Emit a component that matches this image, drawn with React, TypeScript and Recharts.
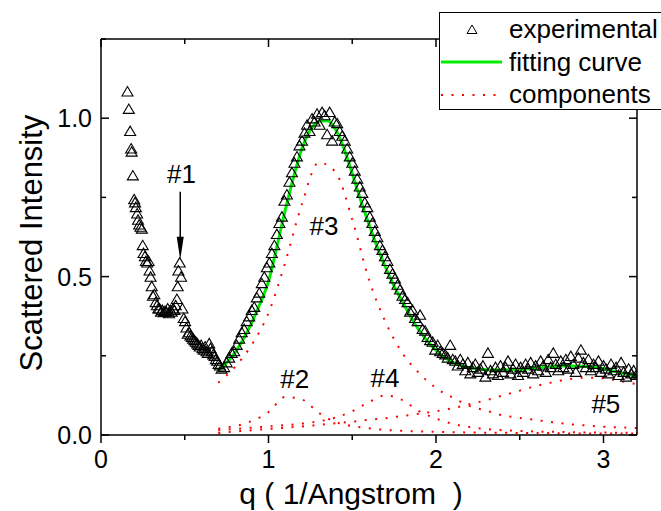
import React from 'react';
import { ComposedChart, Scatter, Line, XAxis, YAxis, Legend, Label, ReferenceDot } from 'recharts';

const FONT = '"Liberation Sans", Arial, sans-serif';

// experimental points (q in 1/Angstrom, intensity)
const expQ = [
  0.158, 0.166, 0.174, 0.180, 0.183, 0.190, 0.198, 0.203, 0.208, 0.216,
  0.221, 0.228, 0.236, 0.244, 0.249, 0.254, 0.262, 0.268, 0.276, 0.284,
  0.290, 0.296, 0.303, 0.310, 0.318, 0.326, 0.334, 0.342, 0.350, 0.358,
  0.366, 0.374, 0.382, 0.390, 0.398, 0.406, 0.414, 0.422, 0.430, 0.438,
  0.446, 0.453, 0.458, 0.462, 0.470, 0.478, 0.486, 0.494, 0.502, 0.510,
  0.518, 0.526, 0.534, 0.542, 0.550, 0.558, 0.566, 0.574, 0.582, 0.590,
  0.598, 0.606, 0.614, 0.622, 0.630, 0.638, 0.646, 0.654, 0.662, 0.670,
  0.678, 0.686, 0.694, 0.702, 0.710,
  0.720, 0.735, 0.750, 0.765, 0.780, 0.795, 0.810, 0.825, 0.840, 0.855,
  0.870, 0.885, 0.900, 0.915, 0.930, 0.945, 0.960, 0.975, 0.990, 1.005,
  1.020, 1.035, 1.050, 1.065, 1.080, 1.095, 1.110, 1.125, 1.140, 1.155,
  1.170, 1.185, 1.200, 1.215, 1.230, 1.245, 1.260, 1.275, 1.290, 1.305,
  1.320, 1.335, 1.350, 1.365, 1.380, 1.395, 1.410, 1.425, 1.440, 1.455,
  1.470, 1.485, 1.500, 1.515, 1.530, 1.545, 1.560, 1.575, 1.590, 1.605,
  1.620, 1.635, 1.650, 1.665, 1.680, 1.695, 1.710, 1.725, 1.740, 1.755,
  1.770, 1.785, 1.800, 1.815, 1.830, 1.845, 1.860, 1.875, 1.890, 1.905,
  1.920, 1.935, 1.950, 1.965, 1.980, 1.995, 2.010, 2.025, 2.040, 2.055,
  2.070, 2.085, 2.100, 2.115, 2.130, 2.145, 2.160, 2.175, 2.190, 2.205,
  2.220, 2.235, 2.250, 2.265, 2.280, 2.295, 2.310, 2.325, 2.340, 2.355,
  2.370, 2.385, 2.400, 2.415, 2.430, 2.445, 2.460, 2.475, 2.490, 2.505,
  2.520, 2.535, 2.550, 2.565, 2.580, 2.595, 2.610, 2.625, 2.640, 2.655,
  2.670, 2.685, 2.700, 2.715, 2.730, 2.745, 2.760, 2.775, 2.790, 2.805,
  2.820, 2.835, 2.850, 2.865, 2.880, 2.895, 2.910, 2.925, 2.940, 2.955,
  2.970, 2.985, 3.000, 3.015, 3.030, 3.045, 3.060, 3.075, 3.090, 3.105,
  3.120, 3.135, 3.150, 3.165, 3.180, 3.195, 3.210,
];
const expI = [
  1.085, 1.03, 0.96, 0.905, 0.895, 0.82, 0.745, 0.735, 0.72, 0.70,
  0.68, 0.665, 0.658, 0.652, 0.60, 0.575, 0.565, 0.55, 0.545, 0.55,
  0.52, 0.50, 0.47, 0.44, 0.445, 0.42, 0.41, 0.40, 0.40, 0.39,
  0.395, 0.388, 0.392, 0.39, 0.40, 0.385, 0.395, 0.39, 0.40, 0.395,
  0.41, 0.43, 0.47, 0.52, 0.545, 0.50, 0.40, 0.37, 0.36, 0.34,
  0.32, 0.325, 0.315, 0.31, 0.305, 0.30, 0.295, 0.29, 0.285, 0.28,
  0.285, 0.275, 0.27, 0.28, 0.265, 0.26, 0.29, 0.275, 0.265, 0.255,
  0.25, 0.24, 0.235, 0.225, 0.22,
  0.21, 0.215, 0.23, 0.245, 0.26, 0.265, 0.285, 0.305, 0.325, 0.335,
  0.36, 0.375, 0.395, 0.405, 0.435, 0.45, 0.48, 0.50, 0.53, 0.545,
  0.575, 0.60, 0.635, 0.67, 0.69, 0.74, 0.76, 0.80, 0.83, 0.86,
  0.88, 0.915, 0.93, 0.955, 0.98, 0.96, 1.0, 0.99, 1.015, 0.98,
  1.02, 1.01, 0.95, 1.02, 0.93, 0.99, 0.985, 0.96, 0.945, 0.93,
  0.905, 0.88, 0.86, 0.835, 0.81, 0.785, 0.765, 0.735, 0.72, 0.69,
  0.67, 0.645, 0.625, 0.60, 0.585, 0.565, 0.55, 0.525, 0.51, 0.495,
  0.475, 0.46, 0.44, 0.43, 0.42, 0.39, 0.395, 0.37, 0.36, 0.38,
  0.335, 0.33, 0.31, 0.30, 0.295, 0.27, 0.285, 0.265, 0.26, 0.255,
  0.245, 0.285, 0.24, 0.235, 0.22, 0.24, 0.225, 0.205, 0.23, 0.195,
  0.215, 0.225, 0.20, 0.21, 0.22, 0.185, 0.26, 0.205, 0.195, 0.215,
  0.19, 0.22, 0.20, 0.215, 0.235, 0.195, 0.21, 0.225, 0.19, 0.215,
  0.20, 0.225, 0.21, 0.23, 0.195, 0.22, 0.205, 0.235, 0.22, 0.20,
  0.24, 0.215, 0.26, 0.225, 0.205, 0.235, 0.215, 0.24, 0.21, 0.25,
  0.225, 0.20, 0.245, 0.27, 0.23, 0.215, 0.24, 0.205, 0.225, 0.215,
  0.235, 0.20, 0.22, 0.21, 0.195, 0.225, 0.205, 0.215, 0.19, 0.23,
  0.20, 0.185, 0.21, 0.195, 0.205, 0.19, 0.195,
];

// fitting curve
const fitQ = [
  0.70, 0.75, 0.80, 0.85, 0.90, 0.95, 1.00, 1.05, 1.10, 1.15,
  1.20, 1.25, 1.30, 1.35, 1.40, 1.45, 1.50, 1.55, 1.60, 1.65,
  1.70, 1.75, 1.80, 1.85, 1.90, 1.95, 2.00, 2.05, 2.10, 2.15,
  2.20, 2.25, 2.30, 2.35, 2.40, 2.45, 2.50, 2.55, 2.60, 2.65,
  2.70, 2.75, 2.80, 2.85, 2.90, 2.95, 3.00, 3.05, 3.10, 3.15, 3.20,
];
const fitI = [
  0.203, 0.228, 0.26, 0.303, 0.355, 0.415, 0.485, 0.595, 0.71, 0.815,
  0.905, 0.963, 0.99, 0.992, 0.965, 0.905, 0.825, 0.742, 0.665, 0.592,
  0.528, 0.47, 0.42, 0.372, 0.33, 0.295, 0.268, 0.245, 0.229, 0.219,
  0.212, 0.208, 0.206, 0.205, 0.205, 0.206, 0.207, 0.209, 0.211, 0.214,
  0.216, 0.218, 0.218, 0.218, 0.216, 0.213, 0.209, 0.203, 0.197, 0.191, 0.185,
];

// fitted components #2..#5
const compQ = [
  0.7, 0.8, 0.9, 1.0, 1.1, 1.2, 1.3, 1.4, 1.5, 1.6, 1.7, 1.8, 1.9,
  2.0, 2.1, 2.2, 2.3, 2.4, 2.5, 2.6, 2.7, 2.8, 2.9, 3.0, 3.1, 3.2,
];
const comp2 = [
  0.02, 0.028, 0.044, 0.072, 0.12, 0.112, 0.07, 0.041, 0.028, 0.021, 0.016, 0.013, 0.011,
  0.01, 0.009, 0.008, 0.007, 0.007, 0.006, 0.006, 0.006, 0.005, 0.005, 0.005, 0.005, 0.005,
];
const comp3 = [
  0.165, 0.215, 0.285, 0.385, 0.545, 0.73, 0.86, 0.83, 0.68, 0.49, 0.355, 0.258, 0.195,
  0.148, 0.118, 0.092, 0.077, 0.062, 0.054, 0.047, 0.04, 0.034, 0.03, 0.026, 0.024, 0.022,
];
const comp4 = [
  0.014, 0.019, 0.023, 0.027, 0.031, 0.036, 0.043, 0.055, 0.075, 0.104, 0.125, 0.11, 0.075,
  0.052, 0.035, 0.025, 0.019, 0.015, 0.013, 0.011, 0.01, 0.009, 0.008, 0.008, 0.007, 0.007,
];
const comp5 = [
  0.006, 0.011, 0.015, 0.019, 0.023, 0.027, 0.032, 0.037, 0.042, 0.048, 0.053, 0.06, 0.067,
  0.075, 0.085, 0.097, 0.11, 0.125, 0.14, 0.155, 0.167, 0.177, 0.181, 0.179, 0.17, 0.16,
];

const X_MAX = 3.2;
const Y_MAX = 1.25;
const xTicks = [0, 0.5, 1, 1.5, 2, 2.5, 3];
const yTicks = [0, 0.25, 0.5, 0.75, 1, 1.25];

// peak labels
const peakNames = ['#1', '#2', '#3', '#4', '#5'];
const peakQ = [0.481, 1.157, 1.331, 1.696, 3.014];
const peakI = [0.796, 0.148, 0.632, 0.152, 0.069];

// plot box in pixels (chart margins + axis sizes) and the legend box
const PLOT = { left: 101, top: 39, right: 637, bottom: 435 };
const LEG = { left: 439, top: 12, width: 240, height: 98 };

const expData = expQ.map((q, i) => ({ q, I: expI[i] }));
const fitData = fitQ.map((q, i) => ({ q, I: fitI[i] }));
const comps = [comp2, comp3, comp4, comp5].map((c) => compQ.map((q, i) => ({ q, I: c[i] })));

const Triangle = (props: any) => {
  const { cx, cy } = props;
  return (
    <path
      d={`M${cx - 5.5},${cy + 4.7}L${cx + 5.5},${cy + 4.7}L${cx},${cy - 4.7}Z`}
      fill="none"
      stroke="#000"
      strokeWidth={1.1}
    />
  );
};

const BottomTick = (props: any) => {
  const { x, y, payload } = props;
  const major = Number.isInteger(payload.value);
  return (
    <g>
      <line x1={x} y1={y} x2={x} y2={y + (major ? 8 : 5)} stroke="#000" strokeWidth={1.5} />
      {major && (
        <text x={x} y={y + 33} textAnchor="middle" fontSize={25} fontFamily={FONT} fill="#000">
          {payload.value}
        </text>
      )}
    </g>
  );
};

const LeftTick = (props: any) => {
  const { x, y, payload } = props;
  const v = payload.value;
  const major = Number.isInteger(v * 2);
  return (
    <g>
      <line x1={x} y1={y} x2={x + (major ? 8 : 5)} y2={y} stroke="#000" strokeWidth={1.5} />
      {major && v <= 1 && (
        <text x={x - 9} y={y + 9} textAnchor="end" fontSize={25} fontFamily={FONT} fill="#000">
          {v.toFixed(1)}
        </text>
      )}
    </g>
  );
};

// top / right edges of the frame with inward mirror ticks; the parts hidden by the legend box are left out
const Frame = () => {
  const w = PLOT.right - PLOT.left;
  const h = PLOT.bottom - PLOT.top;
  const legBottom = LEG.top + LEG.height;
  return (
    <svg
      width={661}
      height={511}
      style={{ position: 'absolute', left: 0, top: 0, zIndex: 5, pointerEvents: 'none' }}
    >
      <line x1={PLOT.left} y1={PLOT.top} x2={LEG.left} y2={PLOT.top} stroke="#000" strokeWidth={1.5} />
      <line x1={PLOT.right} y1={legBottom} x2={PLOT.right} y2={PLOT.bottom} stroke="#000" strokeWidth={1.5} />
      {xTicks.map((t) => {
        const x = PLOT.left + (t / X_MAX) * w;
        if (x > LEG.left) return null;
        return <line key={'t' + t} x1={x} y1={PLOT.top} x2={x} y2={PLOT.top + (Number.isInteger(t) ? 8 : 5)} stroke="#000" strokeWidth={1.5} />;
      })}
      {yTicks.map((t) => {
        const y = PLOT.bottom - (t / Y_MAX) * h;
        if (y < legBottom) return null;
        return <line key={'r' + t} x1={PLOT.right} y1={y} x2={PLOT.right - (Number.isInteger(t * 2) ? 8 : 5)} y2={y} stroke="#000" strokeWidth={1.5} />;
      })}
    </svg>
  );
};

const LegendBox = () => (
  <div style={{ width: LEG.width, height: LEG.height, border: '1px solid #000', background: '#fff', boxSizing: 'border-box' }}>
    <svg width={LEG.width} height={LEG.height - 2} style={{ display: 'block' }}>
      <path d="M27,20.5L37,20.5L32,12Z" fill="none" stroke="#000" strokeWidth={1} />
      <text x={69} y={25} fontSize={26} fontFamily={FONT} fill="#000">experimental</text>
      <line x1={1} y1={49} x2={62} y2={49} stroke="#00ee00" strokeWidth={3} />
      <text x={69} y={58} fontSize={26} fontFamily={FONT} fill="#000">fitting curve</text>
      <line x1={1} y1={82} x2={62} y2={82} stroke="#ff0000" strokeWidth={2} strokeDasharray="2 8.5" />
      <text x={69} y={90} fontSize={26} fontFamily={FONT} fill="#000">components</text>
    </svg>
  </div>
);

const PeakText = (name: string) => (props: any) => (
  <text x={props.cx} y={props.cy} textAnchor="middle" fontSize={26} fontFamily={FONT} fill="#000">
    {name}
  </text>
);

// arrow pointing down at peak #1 (tip at the dot)
const Arrow = (props: any) => {
  const { cx, cy } = props;
  return (
    <g>
      <line x1={cx} y1={cy - 68} x2={cx} y2={cy - 20} stroke="#000" strokeWidth={1.5} />
      <path d={`M${cx - 3.5},${cy - 23}L${cx + 3.5},${cy - 23}L${cx},${cy}Z`} fill="#000" />
    </g>
  );
};

export default function App() {
  return (
    <div style={{ position: 'absolute', left: 0, top: 0, width: 661, height: 511, overflow: 'hidden', background: '#fff' }}>
      <ComposedChart
        width={661}
        height={511}
        margin={{ top: PLOT.top, right: 661 - PLOT.right, bottom: 0, left: 0 }}
      >
        <XAxis
          type="number"
          dataKey="q"
          domain={[0, X_MAX]}
          ticks={xTicks}
          interval={0}
          allowDataOverflow
          height={511 - PLOT.bottom}
          tickSize={0}
          tickMargin={0}
          tickLine={false}
          tick={BottomTick}
          axisLine={{ stroke: '#000', strokeWidth: 1.5 }}
        >
          <Label
            content={() => (
              <text x={351} y={504} textAnchor="middle" fontSize={30} fontFamily={FONT} fill="#000" style={{ whiteSpace: 'pre' }}>
                {'q ( 1/Angstrom  )'}
              </text>
            )}
          />
        </XAxis>
        <YAxis
          type="number"
          dataKey="I"
          domain={[0, Y_MAX]}
          ticks={yTicks}
          interval={0}
          allowDataOverflow
          width={PLOT.left}
          tickSize={0}
          tickMargin={0}
          tickLine={false}
          tick={LeftTick}
          axisLine={{ stroke: '#000', strokeWidth: 1.5 }}
        >
          <Label
            content={() => (
              <text x={42} y={243} transform="rotate(-90 42 243)" textAnchor="middle" fontSize={31} fontFamily={FONT} fill="#000">
                Scattered Intensity
              </text>
            )}
          />
        </YAxis>
        <Scatter name="experimental" data={expData} dataKey="I" shape={Triangle} isAnimationActive={false} />
        {comps.map((d, k) => (
          <Line
            key={k}
            data={d}
            dataKey="I"
            type="monotone"
            dot={false}
            stroke="#ff0000"
            strokeWidth={2}
            strokeDasharray="2 8.5"
            isAnimationActive={false}
            legendType="none"
          />
        ))}
        <Line
          name="fitting curve"
          data={fitData}
          dataKey="I"
          type="monotone"
          dot={false}
          stroke="#00ee00"
          strokeWidth={3}
          isAnimationActive={false}
        />
        {peakNames.map((n, k) => (
          <ReferenceDot key={n} x={peakQ[k]} y={peakI[k]} r={0} shape={PeakText(n)} />
        ))}
        <ReferenceDot x={0.473} y={0.553} r={0} shape={Arrow} />
        <Legend
          layout="horizontal"
          align="center"
          verticalAlign="middle"
          content={LegendBox}
          wrapperStyle={{ position: 'absolute', left: LEG.left, top: LEG.top, width: LEG.width }}
        />
      </ComposedChart>
      <Frame />
    </div>
  );
}
